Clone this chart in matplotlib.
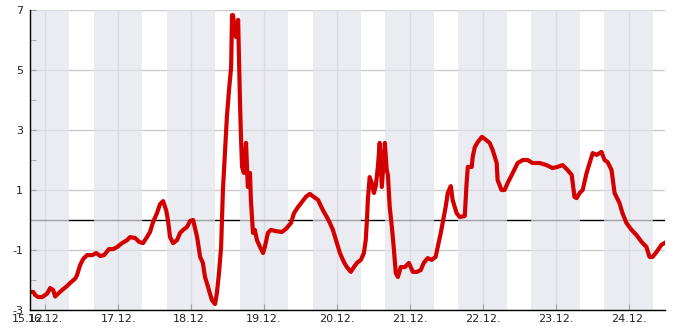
import matplotlib
matplotlib.use("Agg")
import matplotlib.pyplot as plt
from datetime import datetime, timedelta

plt.rcParams["axes.unicode_minus"] = False

# Temperature readings, hours counted from 15.12. 00:00
hours = [19.1, 20.1, 20.7, 21.7, 23.0, 24.7, 25.6, 26.6, 27.3, 28.3, 29.6, 31.2, 32.2,
         33.9, 34.5, 35.5, 36.5, 37.8, 39.5, 40.8, 42.1, 43.4, 45.0, 46.4, 47.7, 49.3,
         51.0, 51.9, 53.6, 54.9, 56.2, 57.5, 58.5, 59.5, 60.8, 61.8, 62.8, 63.8, 64.4,
         65.1, 66.1, 67.4, 68.4, 69.4, 70.7, 71.7, 72.7, 74.0, 75.0, 75.9, 76.6, 77.6,
         78.2, 78.9, 79.9, 80.5, 81.2, 81.9, 82.5, 83.2, 83.8, 84.5, 85.2, 85.5, 85.8,
         86.8, 87.5, 88.1, 88.4, 88.8, 89.4, 90.1, 90.7, 91.4, 91.7, 92.4, 93.0, 93.7,
         94.7, 95.7, 96.3, 97.3, 98.3, 99.9, 101.9, 103.2, 104.9, 105.9, 107.2, 108.5,
         109.8, 111.1, 112.4, 113.8, 115.4, 116.7, 117.7, 118.7, 120.0, 121.0, 122.3,
         123.3, 124.6, 125.6, 126.6, 127.9, 128.9, 129.5, 129.9, 130.2, 130.8, 131.5,
         132.2, 132.8, 133.5, 134.1, 134.8, 135.8, 136.4, 136.8, 137.4, 138.1, 138.7,
         139.4, 140.1, 141.0, 142.4, 143.7, 145.0, 146.3, 147.6, 148.6, 149.9, 151.2,
         152.5, 153.2, 154.2, 155.2, 155.8, 156.5, 157.5, 158.1, 159.4, 160.4, 162.1,
         162.7, 163.1, 164.4, 164.7, 165.4, 166.4, 167.7, 168.7, 170.3, 171.3, 172.6,
         172.9, 174.2, 175.2, 176.2, 177.9, 179.5, 181.2, 182.8, 184.4, 186.7, 189.0,
         191.0, 192.6, 194.3, 195.9, 197.3, 198.2, 198.9, 199.9, 200.9, 202.2, 203.2,
         204.2, 205.5, 207.1, 208.1, 209.1, 210.4, 211.4, 213.0, 214.0, 215.3, 217.0,
         218.6, 220.3, 221.9, 222.9, 223.9, 225.2, 226.8, 227.8]
temps = [-2.4, -2.4, -2.5, -2.57, -2.57, -2.45, -2.27, -2.33, -2.55, -2.45, -2.33, -2.2, -2.1,
         -1.95, -1.83, -1.5, -1.3, -1.17, -1.17, -1.1, -1.2, -1.17, -0.97, -0.97, -0.9, -0.77,
         -0.67, -0.57, -0.6, -0.73, -0.77, -0.57, -0.4, -0.07, 0.23, 0.53, 0.63, 0.33, 0.0,
         -0.57, -0.77, -0.67, -0.43, -0.33, -0.23, -0.03, 0.0, -0.57, -1.23, -1.43, -1.9, -2.23,
         -2.45, -2.67, -2.8, -2.45, -1.77, -0.9, 1.0, 2.33, 3.43, 4.33, 5.1, 6.83, 6.83,
         6.1, 6.67, 4.0, 2.9, 1.77, 1.57, 2.57, 1.1, 1.57, 0.67, -0.43, -0.33, -0.67,
         -0.9, -1.1, -0.9, -0.43, -0.33, -0.37, -0.4, -0.3, -0.1, 0.23, 0.43, 0.6,
         0.77, 0.87, 0.77, 0.67, 0.33, 0.1, -0.1, -0.33, -0.77, -1.1, -1.4,
         -1.57, -1.73, -1.57, -1.43, -1.33, -1.1, -0.67, 0.0, 0.67, 1.43, 1.23,
         0.9, 1.13, 1.77, 2.57, 1.1, 2.57, 1.67, 1.5, 0.43, -0.23, -0.9,
         -1.77, -1.9, -1.57, -1.57, -1.43, -1.73, -1.73, -1.67, -1.43, -1.27, -1.33,
         -1.23, -0.9, -0.43, 0.1, 0.43, 0.9, 1.13, 0.67, 0.23, 0.1, 0.13,
         1.23, 1.77, 1.77, 2.1, 2.43, 2.6, 2.77, 2.7, 2.57, 2.33, 1.9,
         1.33, 1.0, 1.0, 1.23, 1.57, 1.9, 2.0, 2.0, 1.9, 1.9, 1.83,
         1.73, 1.77, 1.83, 1.67, 1.5, 0.77, 0.73, 0.9, 1.0, 1.57, 1.9,
         2.23, 2.17, 2.27, 2.0, 1.93, 1.67, 0.9, 0.57, 0.23, -0.1, -0.33,
         -0.5, -0.73, -0.9, -1.23, -1.23, -1.07, -0.83, -0.77]

day_labels = ["15.12.", "16.12.", "17.12.", "18.12.", "19.12.", "20.12.",
              "21.12.", "22.12.", "23.12.", "24.12."]
y_major = [-3, -1, 1, 3, 5, 7]
y_minor = [-2, 0, 2, 4, 6]

start = datetime(2022, 12, 15)
times = [start + timedelta(hours=h) for h in hours]
x_start = start + timedelta(hours=19)
x_end = start + timedelta(hours=228)
midnights = [start + timedelta(days=d) for d in range(1, 10)]

fig = plt.figure(figsize=(6.85, 3.3), dpi=100)
ax = fig.add_axes([30 / 685, 20 / 330, 635 / 685, 300 / 330])
ax.set_axisbelow(True)

# night shading 16:00 - 08:00
for d in range(0, 10):
    a = start + timedelta(days=d, hours=-8)
    b = start + timedelta(days=d, hours=8)
    ax.axvspan(max(a, x_start), min(b, x_end), color=(0.886, 0.894, 0.929),
               alpha=0.7, lw=0, zorder=2)

ax.axhline(0, color="black", lw=1, zorder=1)
ax.plot(times, temps, color="#d40000", lw=3.0, zorder=3)

ax.set_xlim(x_start, x_end)
ax.set_ylim(-3, 7)
ax.set_xticks([x_start] + midnights)
ax.set_xticklabels(day_labels)
ax.set_yticks(y_major)
ax.set_yticks(y_minor, minor=True)

for d in midnights:
    ax.axvline(d, color="#cccccc", lw=1, zorder=0.5)
ax.grid(axis="y", which="major", color="#cccccc", lw=1)

ax.tick_params(axis="both", which="both", direction="in", length=4, color="black",
               labelsize=8, labelcolor="#222222")
ax.tick_params(axis="y", pad=5)
ax.tick_params(axis="x", pad=3)

for s in ["top", "right"]:
    ax.spines[s].set_visible(False)
for s in ["left", "bottom"]:
    ax.spines[s].set_color("black")
    ax.spines[s].set_linewidth(1)
    ax.spines[s].set_zorder(4)

fig.savefig("out.png", dpi=100)
